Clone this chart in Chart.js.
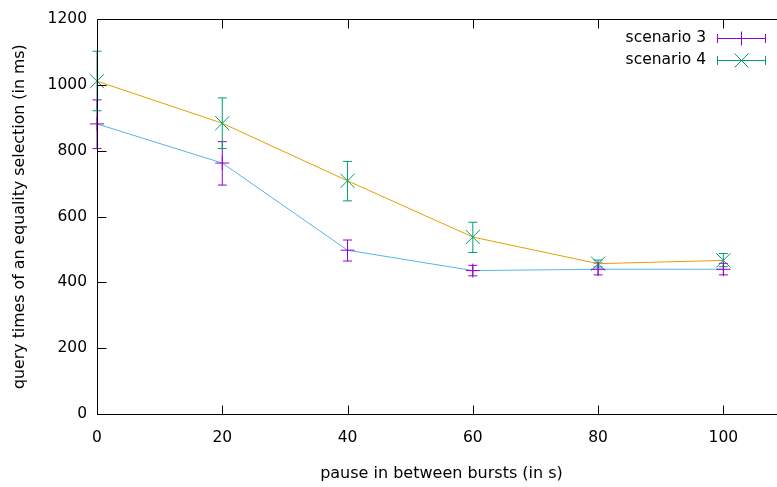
<!DOCTYPE html>
<html>
<head>
<meta charset="utf-8">
<script src="https://cdn.jsdelivr.net/npm/chart.js@4/dist/chart.umd.min.js"></script>
<style>
html, body { margin: 0; padding: 0; overflow: hidden; background: #fff; }
#wrap { width: 800px; height: 487px; position: relative; }
</style>
</head>
<body>
<div id="wrap"><canvas id="c"></canvas></div>
<script>
// ---- data ----
const pauses = [0, 20, 40, 60, 80, 100];
const s3Mean = [882, 763, 498, 436, 440, 440];
const s3Low  = [807, 696, 465, 420, 423, 423];
const s3High = [955, 828, 529, 452, 459, 458];
const s4Mean = [1012, 884, 709, 538, 457, 467];
const s4Low  = [922, 807, 648, 491, 447, 448];
const s4High = [1103, 961, 768, 583, 468, 488];
const seriesNames = ['scenario 3', 'scenario 4'];
const xTickValues = [0, 20, 40, 60, 80, 100];
const yTickValues = [0, 200, 400, 600, 800, 1000, 1200];

const PURPLE = '#9400d3', GREEN = '#009e73', BLUE = '#56b4e9', ORANGE = '#e69f00';
const FONT = 'DejaVu Sans';

function pts(xs, ys) { return xs.map((x, i) => ({ x: x, y: ys[i] })); }

const errorSets = [
  { low: s3Low, high: s3High, color: PURPLE },
  { low: s4Low, high: s4High, color: GREEN }
];

const errorBarPlugin = {
  id: 'errorBars',
  beforeDatasetsDraw(chart) {
    const ctx = chart.ctx, xs = chart.scales.x, ys = chart.scales.y;
    ctx.save();
    ctx.lineWidth = 1;
    errorSets.forEach(set => {
      ctx.strokeStyle = set.color;
      pauses.forEach((p, i) => {
        const px = xs.getPixelForValue(p);
        const yl = ys.getPixelForValue(set.low[i]);
        const yh = ys.getPixelForValue(set.high[i]);
        ctx.beginPath();
        ctx.moveTo(px, yl); ctx.lineTo(px, yh);
        ctx.moveTo(px - 4.5, yl); ctx.lineTo(px + 4.5, yl);
        ctx.moveTo(px - 4.5, yh); ctx.lineTo(px + 4.5, yh);
        ctx.stroke();
      });
    });
    ctx.restore();
  }
};

const framePlugin = {
  id: 'frame',
  afterDraw(chart) {
    const ctx = chart.ctx, a = chart.chartArea, xs = chart.scales.x, ys = chart.scales.y;
    const L = Math.round(a.left) + 0.5, R = Math.round(a.right) + 0.5;
    const T = Math.round(a.top) + 0.5, B = Math.round(a.bottom) + 0.5;
    ctx.save();
    ctx.strokeStyle = '#000';
    ctx.lineWidth = 1;
    ctx.strokeRect(L, T, R - L, B - T);
    const tl = 9;
    ctx.beginPath();
    xs.ticks.forEach(t => {
      const px = Math.round(xs.getPixelForValue(t.value)) + 0.5;
      ctx.moveTo(px, B); ctx.lineTo(px, B - tl);
      ctx.moveTo(px, T); ctx.lineTo(px, T + tl);
    });
    ys.ticks.forEach(t => {
      const py = Math.round(ys.getPixelForValue(t.value)) + 0.5;
      ctx.moveTo(L, py); ctx.lineTo(L + tl, py);
      ctx.moveTo(R, py); ctx.lineTo(R - tl, py);
    });
    ctx.stroke();

    // legend
    ctx.font = '15.5px "' + FONT + '"';
    ctx.fillStyle = '#000';
    ctx.textAlign = 'right';
    ctx.textBaseline = 'middle';
    const rows = [
      { name: seriesNames[0], color: PURPLE, y: 38, mark: 'plus' },
      { name: seriesNames[1], color: GREEN, y: 60, mark: 'x' }
    ];
    rows.forEach(r => {
      ctx.fillText(r.name, 706, r.y);
      const x1 = 717, x2 = 766, cx = 741.5, y = r.y + 0.5;
      ctx.strokeStyle = r.color;
      ctx.beginPath();
      ctx.moveTo(x1, y); ctx.lineTo(x2, y);
      ctx.moveTo(x1 + 0.5, y - 4.5); ctx.lineTo(x1 + 0.5, y + 4.5);
      ctx.moveTo(x2 - 0.5, y - 4.5); ctx.lineTo(x2 - 0.5, y + 4.5);
      if (r.mark === 'plus') {
        ctx.moveTo(cx, y - 7); ctx.lineTo(cx, y + 7);
      } else {
        ctx.moveTo(cx - 7, y - 7); ctx.lineTo(cx + 7, y + 7);
        ctx.moveTo(cx - 7, y + 7); ctx.lineTo(cx + 7, y - 7);
      }
      ctx.stroke();
    });
    ctx.restore();
  }
};

new Chart(document.getElementById('c'), {
  type: 'line',
  data: {
    datasets: [
      {
        label: seriesNames[0],
        data: pts(pauses, s3Mean),
        borderColor: BLUE,
        borderWidth: 1,
        pointStyle: 'cross',
        pointRadius: 7,
        pointBorderColor: PURPLE,
        pointBackgroundColor: PURPLE,
        pointBorderWidth: 1,
        tension: 0,
        fill: false,
        clip: false
      },
      {
        label: seriesNames[1],
        data: pts(pauses, s4Mean),
        borderColor: ORANGE,
        borderWidth: 1,
        pointStyle: 'crossRot',
        pointRadius: 10,
        pointBorderColor: GREEN,
        pointBackgroundColor: GREEN,
        pointBorderWidth: 1,
        tension: 0,
        fill: false,
        clip: false
      }
    ]
  },
  options: {
    responsive: true,
    maintainAspectRatio: false,
    animation: false,
    events: [],
    layout: { padding: { top: 18, right: 14, bottom: 0, left: 0 } },
    plugins: { legend: { display: false }, tooltip: { enabled: false } },
    scales: {
      x: {
        type: 'linear',
        min: 0, max: 110,
        afterFit(s) { s.height = 73; },
        afterBuildTicks(s) { s.ticks = xTickValues.map(v => ({ value: v })); },
        border: { display: false },
        grid: { display: false, drawTicks: false },
        ticks: { color: '#000', font: { family: FONT, size: 15.5 }, padding: 15, maxRotation: 0,
                 callback: v => String(v) },
        title: { display: true, text: 'pause in between bursts (in s)', color: '#000',
                 font: { family: FONT, size: 16 }, padding: { top: 0, bottom: 4 } }
      },
      y: {
        type: 'linear',
        min: 0, max: 1200,
        afterFit(s) { s.width = 97; },
        afterBuildTicks(s) { s.ticks = yTickValues.map(v => ({ value: v })); },
        border: { display: false },
        grid: { display: false, drawTicks: false },
        ticks: { color: '#000', font: { family: FONT, size: 15.5 }, padding: 10,
                 callback: v => String(v) },
        title: { display: true, text: 'query times of an equality selection (in ms)', color: '#000',
                 font: { family: FONT, size: 15.8 }, padding: { top: 10.5, bottom: 0 } }
      }
    }
  },
  plugins: [errorBarPlugin, framePlugin]
});
</script>
</body>
</html>
